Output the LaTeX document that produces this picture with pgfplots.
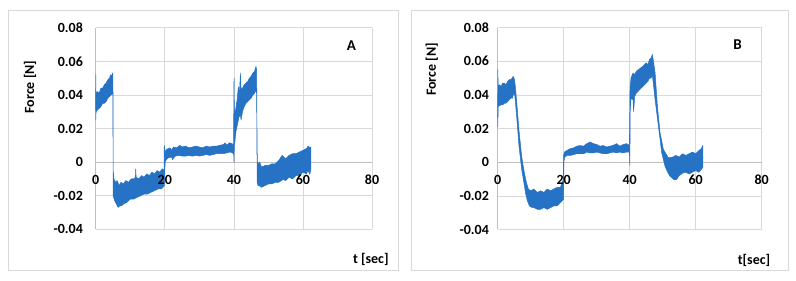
\documentclass[border=0pt]{standalone}
\usepackage{fontspec}
\setmainfont{Carlito}
\usepackage{pgfplots}
\pgfplotsset{compat=1.18}
\definecolor{dblue}{RGB}{38,114,196}
\definecolor{gridc}{RGB}{217,217,217}
\definecolor{axc}{RGB}{191,191,191}
\pgfplotsset{panel/.style={
  set layers,
  scale only axis, anchor=south west,
  xmin=0, xmax=80, ymin=-0.04, ymax=0.08,
  scaled x ticks=false, scaled y ticks=false,
  xtick={0,20,40,60,80}, xticklabels={0,20,40,60,80},
  ytick={-0.04,-0.02,0,0.02,0.04,0.06,0.08},
  yticklabels={-0.04,-0.02,0,0.02,0.04,0.06,0.08},
  grid=major, major grid style={gridc, line width=0.6pt},
  axis line style={draw=none}, major tick length=0pt,
  tick style={draw=none},
  every tick label/.append style={font=\fontsize{14bp}{16bp}\selectfont\bfseries, text=black},
  xticklabel style={yshift=57.9bp},
}}
\begin{document}
\begin{tikzpicture}
\path (0bp,0bp) rectangle (796bp,281bp);
\draw[gridc, line width=0.8pt] (8bp,11bp) rectangle (398bp,271bp);
\draw[gridc, line width=0.8pt] (411bp,11bp) rectangle (788bp,271bp);
% Panel A
\begin{axis}[panel, at={(95.7bp,51.7bp)}, width=276.3bp, height=201.6bp,
  yticklabel style={xshift=-9.3bp}]
\begin{pgfonlayer}{axis ticks}
\draw[axc, line width=0.7pt] (axis cs:0,0) -- (axis cs:80,0);
\draw[axc, line width=0.7pt] (axis cs:0,-0.04) -- (axis cs:0,0.08);
\end{pgfonlayer}
\addplot[on layer=axis ticks, draw=dblue, fill=dblue, line width=0.5pt, line join=round] coordinates {
(0,0.036) (0.03,0.052) (0.1,0.040) (0.5,0.042) (1,0.041) (1.5,0.044) (2,0.044) (2.5,0.046) (3,0.047) (3.5,0.049) (4,0.050) (4.3,0.052) (4.6,0.051) (4.9,0.053) (5.0,0.052) (5.05,-0.005) (5.3,-0.010) (5.7,-0.012) (6.2,-0.011) (6.8,-0.014) (7.3,-0.012) (8,-0.013) (8.7,-0.011) (9.5,-0.012) (10.3,-0.010) (11,-0.010) (11.5,-0.009) (11.6,-0.004) (11.7,-0.009) (12.5,-0.010) (13.3,-0.008) (14,-0.009) (14.8,-0.007) (15.5,-0.008) (16.3,-0.006) (17,-0.007) (17.8,-0.005) (18.5,-0.006) (19.3,-0.004) (19.8,-0.005) (19.85,0.010) (20.1,0.006) (20.5,0.0075) (21,0.008) (21.5,0.0085) (22,0.007) (22.5,0.009) (23.5,0.0085) (24.3,0.010) (25,0.009) (26,0.0095) (27,0.0085) (28,0.009) (29,0.0095) (30,0.009) (31,0.0085) (32,0.0095) (33,0.009) (34,0.0095) (35,0.0095) (36,0.010) (37,0.0105) (37.5,0.0115) (38,0.010) (38.7,0.0115) (39.5,0.011) (39.9,0.010) (40.05,0.050) (40.15,0.030) (40.5,0.031) (41,0.038) (41.3,0.045) (41.6,0.040) (41.9,0.053) (42.1,0.043) (42.5,0.044) (43,0.046) (43.5,0.047) (44,0.048) (44.5,0.050) (45,0.051) (45.5,0.053) (46,0.054) (46.4,0.057) (46.6,0.055) (46.7,0.020) (46.8,0.000) (47.0,-0.001) (47.5,0.000) (48,-0.003) (49,-0.002) (50,-0.002) (51,-0.001) (52,-0.001) (53,0.001) (54,0.004) (55,0.002) (56,0.004) (57,0.005) (58,0.005) (59,0.006) (60,0.007) (61,0.008) (61.5,0.0095) (62.1,0.0086) (62.3,0.009)
(62.3,-0.004) (62,-0.0073) (61.5,-0.005) (61,-0.007) (60,-0.006) (59,-0.008) (58,-0.008) (57,-0.010) (56,-0.009) (55,-0.011) (54.3,-0.0103) (53,-0.012) (52,-0.012) (51,-0.013) (50,-0.013) (49,-0.014) (48,-0.015) (47.6,-0.0143) (47,-0.014) (46.75,-0.012) (46.6,0.040) (46.5,0.043) (46,0.041) (45.5,0.040) (45,0.038) (44.5,0.037) (44,0.036) (43.5,0.035) (43,0.033) (42.5,0.030) (42.1,0.025) (41.9,0.028) (41.5,0.027) (41,0.022) (40.6,0.018) (40.3,0.012) (40.15,0.010) (40.05,0.000) (39.95,0.005) (39.5,0.0055) (39,0.006) (38,0.0055) (37,0.005) (36,0.005) (35,0.005) (34,0.0045) (33,0.004) (32,0.0045) (31,0.004) (30,0.0036) (29,0.004) (28,0.0035) (27,0.004) (26,0.0035) (25,0.0036) (24,0.004) (23,0.0035) (22.2,0.0015) (22,0.003) (21,0.0025) (20.5,0.0016) (20.1,0.000) (19.9,-0.014) (19.5,-0.015) (19,-0.016) (18,-0.016) (17,-0.017) (16,-0.018) (15,-0.019) (14,-0.019) (13,-0.020) (12,-0.021) (11,-0.022) (10,-0.022) (9,-0.024) (8,-0.025) (7.5,-0.026) (7,-0.026) (6.5,-0.027) (6,-0.025) (5.5,-0.023) (5.02,-0.020) (5.0,0.041) (4.5,0.040) (4,0.039) (3.5,0.038) (3,0.036) (2.5,0.035) (2,0.035) (1.5,0.033) (1,0.032) (0.5,0.031) (0.1,0.030) (0.03,0.025)
} -- cycle;
\end{axis}
% Panel B
\begin{axis}[panel, at={(497.7bp,51.5bp)}, width=264bp, height=202bp,
  yticklabel style={xshift=-5.3bp}]
\begin{pgfonlayer}{axis ticks}
\draw[axc, line width=0.7pt] (axis cs:0,0) -- (axis cs:80,0);
\draw[axc, line width=0.7pt] (axis cs:0,-0.04) -- (axis cs:0,0.08);
\end{pgfonlayer}
\addplot[on layer=axis ticks, draw=dblue, fill=dblue, line width=0.5pt, line join=round] coordinates {
(0,0.030) (0.03,0.055) (0.15,0.045) (0.5,0.046) (1,0.045) (1.5,0.047) (2,0.047) (2.5,0.046) (3,0.048) (3.5,0.049) (4,0.049) (4.4,0.050) (4.7,0.051) (5.1,0.049) (5.4,0.044) (5.75,0.036) (6.45,0.019) (7.27,0.0033) (8.07,-0.0063) (8.7,-0.012) (9.3,-0.016) (10,-0.017) (11,-0.016) (12,-0.018) (13,-0.017) (14,-0.018) (15,-0.016) (16,-0.017) (17,-0.016) (18,-0.015) (19,-0.015) (19.7,-0.011) (19.9,-0.013) (19.95,0.004) (20.2,0.006) (21,0.007) (22,0.008) (23,0.0085) (24,0.0095) (25,0.0099) (26,0.0095) (27,0.011) (28,0.012) (29,0.011) (30,0.0105) (31,0.0095) (32,0.0099) (33,0.009) (34,0.0095) (35,0.010) (36,0.011) (37,0.0095) (38,0.0105) (39,0.011) (39.9,0.010) (40.1,0.044) (40.4,0.050) (41,0.053) (41.5,0.052) (42,0.054) (43,0.0555) (44,0.057) (45,0.059) (45.5,0.058) (46,0.061) (46.5,0.062) (46.85,0.064) (47.2,0.060) (47.7,0.053) (48.4,0.033) (49.2,0.0175) (50.2,0.0076) (51.7,0.0026) (53,0.003) (54,0.004) (55,0.003) (56,0.005) (57,0.004) (58,0.005) (59,0.006) (60,0.005) (61,0.007) (61.7,0.008) (62.2,0.010)
(62.2,-0.003) (61.3,-0.0053) (61,-0.006) (60,-0.005) (59,-0.006) (58,-0.007) (57,-0.006) (56.2,-0.0063) (55,-0.008) (54.2,-0.0103) (53.5,-0.0105) (52.2,-0.0083) (51.5,-0.006) (50.7,-0.0024) (49.7,0.0056) (48.7,0.0214) (47.7,0.037) (47.2,0.046) (46.85,0.052) (46.5,0.050) (46,0.050) (45.5,0.048) (45,0.047) (44,0.045) (43,0.043) (42,0.041) (41.5,0.039) (41.2,0.030) (41,0.037) (40.5,0.038) (40.3,0.036) (40.15,0.030) (40.05,-0.002) (39.9,0.006) (39,0.006) (38,0.0055) (37,0.006) (36,0.0055) (35,0.006) (34,0.0055) (33,0.005) (32,0.005) (31,0.0055) (30,0.006) (29,0.0055) (28,0.0055) (27,0.006) (26,0.005) (25,0.005) (24,0.005) (23,0.0045) (22,0.004) (21,0.004) (20.3,0.003) (20.05,0.000) (19.95,-0.022) (19.5,-0.023) (19,-0.024) (18,-0.026) (17,-0.026) (16,-0.027) (15,-0.028) (14,-0.027) (13,-0.028) (12,-0.028) (11,-0.027) (10.5,-0.027) (9.6,-0.026) (9.0,-0.023) (8.5,-0.019) (8.0,-0.013) (7.27,-0.0043) (6.45,0.0095) (5.75,0.027) (5.3,0.037) (5.1,0.041) (4.7,0.040) (4.5,0.038) (4,0.038) (3.5,0.037) (3,0.036) (2.5,0.035) (2,0.035) (1.5,0.034) (1,0.034) (0.5,0.0335) (0.15,0.033) (0.03,0.021)
} -- cycle;
\end{axis}
\node[rotate=90, font=\fontsize{14bp}{16bp}\selectfont\bfseries] at (30bp,194bp) {Force [N]};
\node[rotate=90, font=\fontsize{14bp}{16bp}\selectfont\bfseries] at (431.7bp,211.5bp) {Force [N]};
\node[font=\fontsize{14bp}{16bp}\selectfont\bfseries] at (370.8bp,22bp) {t [sec]};
\node[font=\fontsize{14bp}{16bp}\selectfont\bfseries] at (754bp,21bp) {t[sec]};
\node[font=\fontsize{15bp}{17bp}\selectfont\bfseries] at (351.3bp,235.2bp) {A};
\node[font=\fontsize{15bp}{17bp}\selectfont\bfseries] at (737.5bp,236bp) {B};
\end{tikzpicture}
\end{document}
